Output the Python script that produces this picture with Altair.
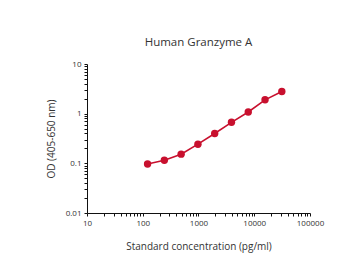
import altair as alt
import pandas as pd

conc = [122, 244, 488, 977, 1953, 3906, 7813, 15625, 31250]
od = [0.097, 0.115, 0.153, 0.243, 0.398, 0.67, 1.08, 1.9, 2.8]

x_ticks = [m * 10 ** e for e in range(1, 5) for m in range(1, 10)] + [100000]
y_ticks = [round(m * 10 ** e, 4) for e in range(-2, 1) for m in range(1, 10)] + [10]

df = pd.DataFrame({"conc": conc, "od": od})

red = "#c8102e"
label_expr = "abs(log(datum.value)/LN10 - round(log(datum.value)/LN10)) < 1e-6 ? datum.label : ''"

x = alt.X("conc:Q", scale=alt.Scale(type="log", domain=[10, 100000], nice=False),
          axis=alt.Axis(values=x_ticks, format="d", labelExpr=label_expr, labelOverlap=False,
                        labelFlush=False, grid=False, tickSize=3, title="Standard concentration (pg/ml)",
                        titlePadding=14, titleFontSize=10))
y = alt.Y("od:Q", scale=alt.Scale(type="log", domain=[0.01, 10], nice=False),
          axis=alt.Axis(values=y_ticks, format="~g", labelExpr=label_expr, labelOverlap=False,
                        labelFlush=False, grid=False, tickSize=3, title="OD (405-650 nm)",
                        titlePadding=9, titleFontSize=10))

base = alt.Chart(df)
line = base.mark_line(color=red, strokeWidth=1.6).encode(x=x, y=y)
pts = base.mark_circle(color=red, size=55, opacity=1).encode(x=x, y=y)

chart = (line + pts).properties(
    width=223, height=149,
    title=alt.TitleParams("Human Granzyme A", fontSize=11.5, fontWeight="normal", font="Open Sans",
                          color="#333", offset=12),
    autosize=alt.AutoSizeParams(type="none"),
    padding={"left": 79, "top": 56, "right": 40, "bottom": 57},
).configure_view(stroke=None).configure_axis(
    domainColor="#111", tickColor="#111", labelFont="Open Sans", titleFont="Open Sans",
    labelFontSize=8, titleFontWeight="normal", labelColor="#333", titleColor="#333",
    labelPadding=3,
)

chart.save("out.html", embed_options={"renderer": "svg", "actions": False})
